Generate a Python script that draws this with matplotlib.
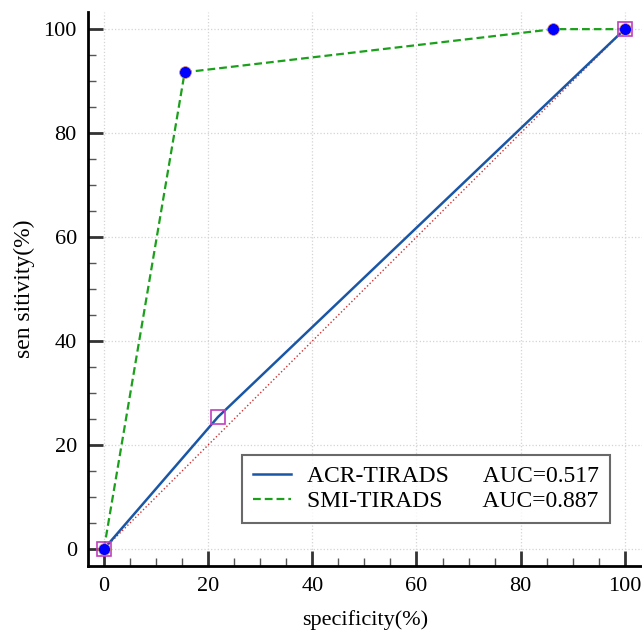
import matplotlib.pyplot as plt
from matplotlib.ticker import MultipleLocator

# ROC points
acr_x = [0, 21.9, 100]
acr_y = [0, 25.4, 100]
smi_x = [0, 15.5, 86.3, 100]
smi_y = [0, 91.7, 100, 100]
diag = [0, 100]
labels = ['ACR-TIRADS      AUC=0.517', 'SMI-TIRADS       AUC=0.887']
ticks = [0, 20, 40, 60, 80, 100]

plt.rcParams['font.family'] = ['Liberation Serif', 'DejaVu Serif']

fig = plt.figure(figsize=(6.42, 6.31), dpi=100)
ax = fig.add_axes([0.137, 0.103, 0.863, 0.878])

ax.grid(True, which='major', color='#d4d4d4', linestyle=':', linewidth=0.9, zorder=0)
ax.set_axisbelow(True)

ax.plot(diag, diag, color='#cc3333', linestyle=':', linewidth=1.0, zorder=2)
l1, = ax.plot(acr_x, acr_y, color='#1a56a6', linewidth=1.8, zorder=3)
l2, = ax.plot(smi_x, smi_y, color='#1aa01a', linestyle='--', linewidth=1.6,
              dashes=(3.5, 1.8), zorder=3)
ax.plot(acr_x, acr_y, linestyle='none', marker='s', markersize=10.5,
        markerfacecolor='none', markeredgecolor='#c040c0', markeredgewidth=1.2, zorder=4)
ax.plot(smi_x, smi_y, linestyle='none', marker='o', markersize=8.5,
        markerfacecolor='#0000ff', markeredgecolor='#e09060', markeredgewidth=0.5, zorder=5)

ax.set_xlim(-3.07, 103.3)
ax.set_ylim(-3.27, 103.3)
ax.set_xticks(ticks)
ax.set_yticks(ticks)
ax.xaxis.set_minor_locator(MultipleLocator(5))
ax.yaxis.set_minor_locator(MultipleLocator(5))
ax.tick_params(which='major', direction='in', length=11, width=2.0, color='#333333',
               labelsize=16, pad=8)
ax.tick_params(which='minor', direction='in', length=5.5, width=1.0, color='#555555')

for s in ['top', 'right']:
    ax.spines[s].set_visible(False)
for s in ['left', 'bottom']:
    ax.spines[s].set_linewidth(2.0)

ax.set_xlabel('specificity(%)', fontsize=16, labelpad=10)
ax.set_ylabel('sen sitivity(%)', fontsize=17, labelpad=6)

leg = ax.legend([l1, l2], labels, loc='lower right', bbox_to_anchor=(0.942, 0.078),
                borderaxespad=0, fontsize=17, frameon=True, fancybox=False,
                handlelength=1.6, handletextpad=0.7, labelspacing=0.15,
                borderpad=0.45, edgecolor='#444444')
leg.get_frame().set_linewidth(1.5)

fig.savefig('out.png', dpi=100)
